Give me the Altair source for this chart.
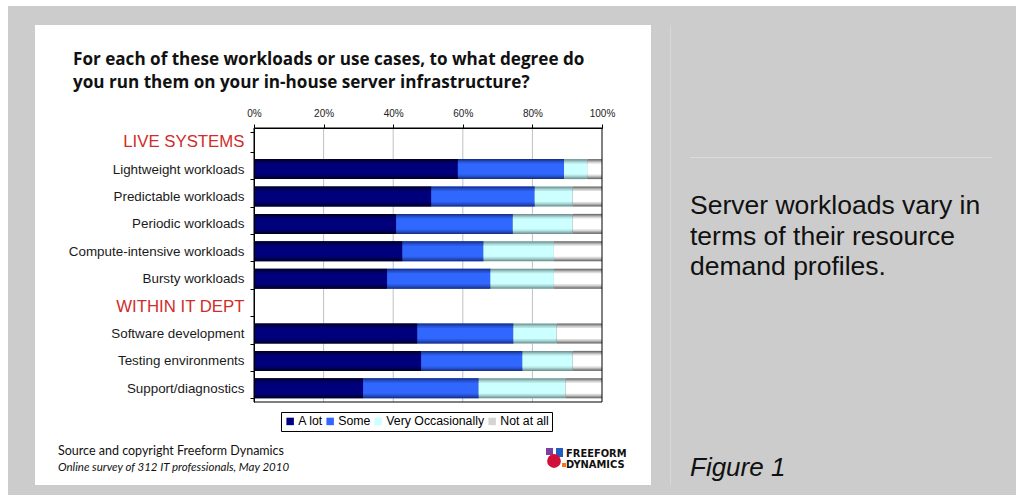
import altair as alt
import pandas as pd

# ---------------- data ----------------
title_lines = ["For each of these workloads or use cases, to what degree do",
               "you run them on your in-house server infrastructure?"]
headers = ["LIVE SYSTEMS", "WITHIN IT DEPT"]
live_cats = ["Lightweight workloads", "Predictable workloads", "Periodic workloads",
             "Compute-intensive workloads", "Bursty workloads"]
it_cats = ["Software development", "Testing environments", "Support/diagnostics"]
categories = live_cats + it_cats
y_order = [headers[0]] + live_cats + [headers[1]] + it_cats

series = ["A lot", "Some", "Very Occasionally", "Not at all"]
a_lot = [58.6, 51.0, 40.9, 42.7, 38.3, 47.0, 48.1, 31.4]
some = [30.5, 29.7, 33.5, 23.3, 29.7, 27.6, 29.1, 33.2]
very_occ = [6.7, 10.9, 17.2, 20.2, 18.2, 12.4, 14.4, 25.0]
not_at_all = [4.2, 8.4, 8.4, 13.8, 13.8, 13.0, 8.4, 10.4]

x_ticks = [0, 20, 40, 60, 80, 100]
grid_vals = [20, 40, 60, 80]

side_text = ["Server workloads vary in", "terms of their resource", "demand profiles."]
figure_label = "Figure 1"
source_line = "Source and copyright Freeform Dynamics"
survey_line = "Online survey of 312 IT professionals, May 2010"
logo_lines = ["FREEFORM", "DYNAMICS"]

# ---------------- styling ----------------
legend_colors = ["#000080", "#3366ff", "#ccffff", "#d4d4d4"]
shade_pairs = [((0, 0, 40), (0, 0, 124)), ((24, 50, 140), (48, 104, 255)),
               ((115, 150, 150), (204, 255, 255)), ((112, 112, 112), (255, 255, 255))]
band_sizes = [20, 18, 16, 14, 11]
W, H = 348, 274
FONT = "Liberation Sans"
HDR_TEST = "indexof(['LIVE SYSTEMS','WITHIN IT DEPT'], datum.value) >= 0"

rows = []
vals_by_series = [a_lot, some, very_occ, not_at_all]
for i, c in enumerate(categories):
    start = 0.0
    for s, vals in zip(series, vals_by_series):
        v = vals[i]
        rows.append({"category": c, "series": s, "value": v, "start": start, "end": start + v})
        start += v
df = pd.DataFrame(rows)
one = pd.DataFrame({"k": [0]})
grid_df = pd.DataFrame({"v": grid_vals})

xscale = alt.Scale(domain=[0, 100], nice=False)
yscale = alt.Scale(domain=y_order, paddingInner=0.27, paddingOuter=0.135)

y_axis = alt.Axis(
    tickBand="extent", tickSize=4, tickColor="black", domainColor="black",
    labelPadding=6, labelLimit=400, zindex=1, labelFont=FONT, grid=False,
    labelFontSize={"condition": {"test": HDR_TEST, "value": 16.8}, "value": 13.4},
    labelColor={"condition": {"test": HDR_TEST, "value": "#d02c2c"}, "value": "#1a1a1a"})
x_axis = alt.Axis(
    orient="top", values=x_ticks, labelExpr="datum.value + '%'", grid=False,
    tickSize=4, tickColor="black", domainColor="black", labelFontSize=10,
    labelFont=FONT, labelColor="#222222", labelPadding=6, zindex=1, labelFlush=False)


def box(x, x2, y, y2, color):
    return alt.Chart(one).mark_rect(color=color).encode(
        x=alt.value(x), x2=alt.value(x2), y=alt.value(y), y2=alt.value(y2))


def mix(a, b, t):
    return "#%02x%02x%02x" % tuple(int(round(a[k] + (b[k] - a[k]) * t)) for k in range(3))


bg = box(-246, 762, -122, 367, "#cccccc")
panel = box(-219, 397, -103, 357, "#ffffff")
vline = box(416, 417, -103, 357, "#d8d8d8")
hline = box(436, 738, 29, 30, "#dcdcdc")

grid = alt.Chart(grid_df).mark_rule(color="#c0c0c0", strokeWidth=1).encode(
    x=alt.X("v:Q", scale=xscale, title=None, axis=x_axis), y=alt.value(0), y2=alt.value(H))

base = alt.Chart(df).mark_bar().encode(
    y=alt.Y("category:N", scale=yscale, title=None, axis=y_axis),
    x=alt.X("start:Q", scale=xscale, title=None, axis=x_axis),
    x2="end:Q",
    color=alt.Color("series:N", scale=alt.Scale(domain=series, range=legend_colors),
                    legend=alt.Legend(title=None, orient="none", legendX=27, legendY=284,
                                      direction="horizontal", strokeColor="black",
                                      fillColor="white", padding=3, symbolType="square",
                                      symbolSize=56, symbolStrokeWidth=0, labelFontSize=12.3,
                                      labelFont=FONT, labelColor="black", columnPadding=1,
                                      labelOffset=2)),
)

shade_layers = []
for s, (dark, light) in zip(series, shade_pairs):
    n = len(band_sizes)
    for j, sz in enumerate(band_sizes):
        col = mix(dark, light, j / (n - 1))
        shade_layers.append(
            alt.Chart(df).transform_filter(alt.datum.series == s).mark_bar(
                color=col, size=sz).encode(
                y=alt.Y("category:N", scale=yscale, title=None, axis=y_axis),
                x=alt.X("start:Q", scale=xscale, title=None, axis=x_axis),
                x2="end:Q"))

frame = alt.Chart(one).mark_rect(fillOpacity=0, stroke="black", strokeWidth=1).encode(
    x=alt.value(0), x2=alt.value(W), y=alt.value(0), y2=alt.value(H))


def txt(text, x, y, size, **kw):
    return alt.Chart(one).mark_text(align="left", baseline="alphabetic", fontSize=size, **kw).encode(
        x=alt.value(x), y=alt.value(y), text=alt.value(text))


title = txt(title_lines, -181, -63, 17.1, font="Open Sans", fontWeight="bold", lineHeight=23, color="#111111")
side = txt(side_text, 436, 86, 26.5, font=FONT, lineHeight=30.5, color="#111111")
fig = txt(figure_label, 436, 348, 26, font=FONT, fontStyle="italic", color="#111111")
src = txt(source_line, -196, 327, 12.5, font="Lato", color="#111111")
srv = txt(survey_line, -196, 343, 11.5, font="Lato", fontStyle="italic", color="#111111")

logo = [
    box(292, 299, 320, 327, "#7b3f9e"),
    box(302, 309, 320, 329, "#1f5fbf"),
    alt.Chart(one).mark_circle(color="#d0103a", size=190, opacity=1).encode(x=alt.value(300), y=alt.value(333)),
    box(308, 312, 335, 339, "#f07820"),
    txt(logo_lines[0], 312, 328.5, 11, font="DejaVu Sans Condensed", fontWeight="bold", color="#111111"),
    txt(logo_lines[1], 312, 339.5, 11, font="DejaVu Sans Condensed", fontWeight="bold", color="#111111"),
]

chart = alt.layer(bg, panel, vline, hline, grid, base, *shade_layers, frame,
                  title, side, fig, src, srv, *logo).properties(
    width=W, height=H, autosize="none",
    padding={"left": 254, "top": 128, "right": 1016 - 254 - W, "bottom": 500 - 128 - H},
    background="white",
).configure_view(stroke=None)

chart.save("out.html", embed_options={"renderer": "svg", "actions": False})
